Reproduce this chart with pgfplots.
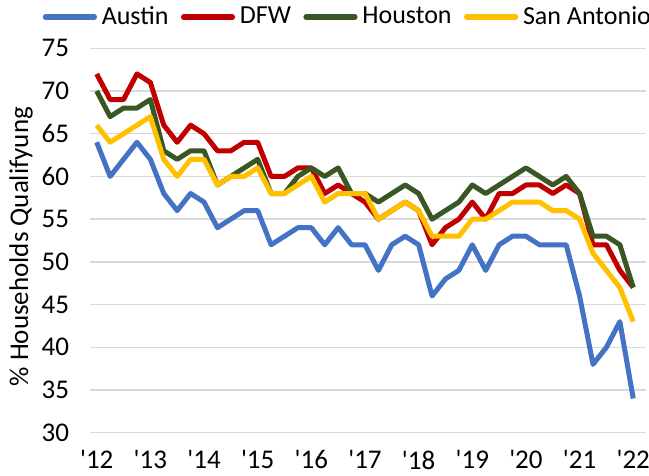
\documentclass[border=0pt]{standalone}
\usepackage{fontspec}
\setmainfont{Carlito}[Ligatures=TeXOff]
\usepackage{pgfplots}
\usepackage{pgfplotstable}
\pgfplotsset{compat=1.18}
\definecolor{cAus}{HTML}{4472C4}
\definecolor{cDFW}{HTML}{C00000}
\definecolor{cHou}{HTML}{385723}
\definecolor{cSA}{HTML}{FFC000}
\definecolor{gridgray}{HTML}{D9D9D9}

\pgfplotstableread{
q Austin DFW Houston SA
0 64 72 70 66
1 60 69 67 64
2 62 69 68 65
3 64 72 68 66
4 62 71 69 67
5 58 66 63 62
6 56 64 62 60
7 58 66 63 62
8 57 65 63 62
9 54 63 59 59
10 55 63 60 60
11 56 64 61 60
12 56 64 62 61
13 52 60 58 58
14 53 60 58 58
15 54 61 60 59
16 54 61 61 60
17 52 58 60 57
18 54 59 61 58
19 52 58 58 58
20 52 57 58 58
21 49 55 57 55
22 52 56 58 56
23 53 57 59 57
24 52 56 58 56
25 46 52 55 53
26 48 54 56 53
27 49 55 57 53
28 52 57 59 55
29 49 55 58 55
30 52 58 59 56
31 53 58 60 57
32 53 59 61 57
33 52 59 60 57
34 52 58 59 56
35 52 59 60 56
36 46 58 58 55
37 38 52 53 51
38 40 52 53 49
39 43 49 52 47
40 34 47 47 43
}\datatable

\begin{document}
\begin{tikzpicture}
\begin{axis}[
  scale only axis,
  width=278pt, height=192.2pt,
  xmin=-0.5, xmax=40.95, ymin=30, ymax=75,
  ytick={30,35,...,75},
  xtick={0,4,...,40},
  xticklabels={'12,'13,'14,'15,'16,'17,'18,'19,'20,'21,'22},
  ymajorgrids,
  grid style={draw=gridgray, line width=0.75pt},
  axis line style={draw=none},
  major tick length=0pt,
  tick style={draw=none},
  font=\fontsize{13.5}{16}\selectfont,
  tick label style={font=\fontsize{13.5}{16}\selectfont, text=black},
  yticklabel style={xshift=-7pt},
  xticklabel style={yshift=-5.5pt},
  /pgf/number format/assume math mode=true,
  ylabel={\% Households Qualifyung},
  ylabel style={at={(axis description cs:-0.124,0.484)}, anchor=center},
  legend columns=4,
  legend style={draw=none, fill=none, at={(0.462,1.0814)}, anchor=center,
    font=\fontsize{13}{15}\selectfont,
    nodes={inner xsep=0pt},
    column sep=0pt,
    /tikz/every odd column/.style={column sep=2.4pt},
    /tikz/every even column/.style={column sep=6.2pt}},
  legend image code/.code={\draw[#1, line width=2.6pt, line cap=round] (0pt,0pt) -- (24.5pt,0pt);},
  every axis plot/.append style={line width=2.5pt, line join=round, no markers},
]
\addplot[cAus] table[x=q, y=Austin] {\datatable};
\addlegendentry{Austin}
\addplot[cDFW] table[x=q, y=DFW] {\datatable};
\addlegendentry{DFW}
\addplot[cHou] table[x=q, y=Houston] {\datatable};
\addlegendentry{Houston}
\addplot[cSA] table[x=q, y=SA] {\datatable};
\addlegendentry{San Antonio}
\end{axis}
\pgfresetboundingbox
\path (current axis.south west) ++(-45pt,-21.65pt) coordinate (bbsw);
\path (current axis.north east) ++(1.5pt,24.15pt) coordinate (bbne);
\useasboundingbox (bbsw) rectangle (bbne);
\end{tikzpicture}
\end{document}
